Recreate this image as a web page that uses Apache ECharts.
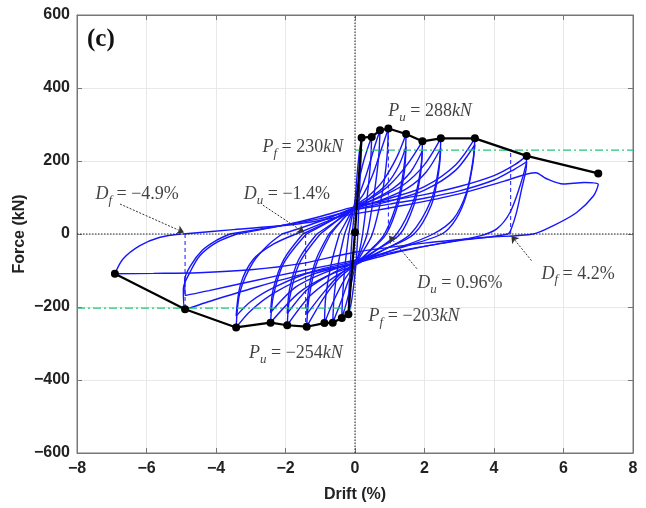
<!DOCTYPE html>
<html>
<head>
<meta charset="utf-8">
<script src="https://cdn.jsdelivr.net/npm/echarts@6/dist/echarts.min.js"></script>
<style>
  html, body { margin: 0; padding: 0; background: #fff; }
  #chart { width: 646px; height: 508px; }
</style>
</head>
<body>
<div id="chart"></div>
<script>
// hysteresis cycles, [drift %, force kN]
const loop01 = [[-0.08,0],[-0.02,60],[0.05,150],[0.12,220],[0.19,264],[0.17,200],[0.12,100],[0.08,0],[0.03,-80],[-0.05,-150],[-0.12,-195],[-0.19,-220],[-0.17,-150],[-0.12,-60],[-0.08,0]];
const loop02 = [[-0.18,0],[-0.08,50],[0,90],[0.1,140],[0.25,200],[0.4,245],[0.48,266],[0.45,200],[0.36,110],[0.22,0],[0.12,-50],[0,-90],[-0.12,-140],[-0.25,-190],[-0.38,-230],[-0.35,-160],[-0.28,-80],[-0.18,0]];
const loop03 = [[-0.3,0],[-0.15,40],[0,80],[0.15,115],[0.35,170],[0.55,235],[0.72,284],[0.68,210],[0.55,110],[0.35,0],[0.18,-45],[0,-85],[-0.2,-130],[-0.4,-185],[-0.64,-243],[-0.6,-170],[-0.48,-80],[-0.3,0]];
const loop04 = [[-0.45,0],[-0.22,40],[0,78],[0.25,110],[0.5,160],[0.75,230],[0.96,289],[0.92,210],[0.78,110],[0.5,0],[0.25,-45],[0,-85],[-0.3,-125],[-0.6,-180],[-0.88,-244],[-0.84,-170],[-0.68,-80],[-0.45,0]];
const loop05 = [[-0.7,0],[-0.35,40],[0,76],[0.4,105],[0.8,145],[1.2,210],[1.47,274],[1.43,200],[1.25,100],[0.85,0],[0.4,-48],[0,-85],[-0.45,-120],[-0.9,-175],[-1.39,-254],[-1.33,-180],[-1.12,-85],[-0.7,0]];
const loop05b = [[-0.75,0],[-0.38,38],[0,72],[0.45,100],[0.9,135],[1.25,185],[1.47,240],[1.42,170],[1.25,85],[0.9,0],[0.45,-45],[0,-80],[-0.45,-112],[-0.9,-160],[-1.39,-220],[-1.33,-150],[-1.12,-70],[-0.75,0]];
const loop06 = [[-1.0,0],[-0.5,38],[0,75],[0.5,100],[1.0,135],[1.5,190],[1.94,254],[1.9,185],[1.7,95],[1.2,0],[0.6,-45],[0,-85],[-0.6,-118],[-1.3,-170],[-1.95,-250],[-1.88,-175],[-1.6,-80],[-1.0,0]];
const loop06b = [[-1.1,0],[-0.55,35],[0,70],[0.55,95],[1.1,125],[1.6,170],[1.94,228],[1.88,160],[1.7,80],[1.3,0],[0.65,-42],[0,-78],[-0.65,-108],[-1.35,-150],[-1.95,-218],[-1.88,-150],[-1.62,-70],[-1.1,0]];
const loop07 = [[-1.4,0],[-0.7,36],[0,74],[0.7,100],[1.4,135],[2.0,190],[2.47,262],[2.42,190],[2.2,95],[1.6,0],[0.8,-45],[0,-85],[-0.8,-115],[-1.6,-160],[-2.43,-243],[-2.35,-170],[-2.05,-80],[-1.4,0]];
const loop07b = [[-1.5,0],[-0.75,34],[0,68],[0.8,95],[1.5,125],[2.05,170],[2.47,235],[2.4,165],[2.2,80],[1.7,0],[0.85,-42],[0,-78],[-0.85,-105],[-1.7,-145],[-2.43,-215],[-2.35,-150],[-2.05,-70],[-1.5,0]];
const loop08 = [[-2.1,0],[-1.0,35],[0,72],[1.0,98],[2.0,130],[2.9,190],[3.45,262],[3.40,205],[3.21,114],[2.83,41],[2.25,0],[1.2,-40],[0,-80],[-1.2,-110],[-2.3,-160],[-3.0,-210],[-3.42,-256],[-3.31,-159],[-2.93,-77],[-2.5,-30],[-2.1,0]];
const loop08b = [[-1.7,0],[-0.85,33],[0,66],[1.0,90],[2.0,120],[2.9,175],[3.45,245],[3.38,185],[3.2,105],[2.9,40],[2.5,0],[1.3,-38],[0,-75],[-1.2,-102],[-2.3,-145],[-3.0,-185],[-3.42,-225],[-3.3,-140],[-2.93,-70],[-2.35,-28],[-1.7,0]];
const loop09 = [[-3.4,0],[-2,25],[-1,48],[0,75],[1,92],[2,108],[3,130],[4,160],[4.6,190],[4.94,214],[4.92,190],[4.75,132],[4.46,59],[4.08,14],[3.6,-5],[2.5,-25],[1.2,-50],[0,-80],[-1.5,-110],[-3.0,-150],[-4.2,-185],[-4.89,-206],[-4.94,-150],[-4.75,-105],[-4.46,-59],[-3.98,-23],[-3.4,0]];
const loop09b = [[-3.6,0],[-2.2,22],[-1,42],[0,66],[1,82],[2,98],[3,118],[4,148],[4.6,178],[4.94,198],[4.92,175],[4.8,125],[4.65,60],[4.5,15],[4.4,0],[3,-18],[1.5,-42],[0,-72],[-1.5,-100],[-3.0,-130],[-4.2,-155],[-4.89,-168],[-4.9,-125],[-4.72,-85],[-4.4,-45],[-4.0,-18],[-3.6,0]];
const loop10 = [[-4.95,0],[-3.5,12],[-1.6,28],[0,55],[1.5,80],[3,110],[4.3,145],[5.2,168],[5.5,152],[6.0,137],[6.6,141],[7.0,136],[6.86,104],[6.38,59],[5.71,23],[5.13,0],[3.8,-9],[2,-25],[0,-50],[-1.6,-82],[-3,-98],[-4.5,-106],[-5.8,-108],[-6.91,-109],[-6.67,-68],[-6.19,-32],[-5.61,-9],[-4.99,0]];
const loops = [loop01, loop02, loop03, loop04, loop05, loop05b, loop06, loop06b, loop07, loop07b, loop08, loop08b, loop09, loop09b, loop10];

// backbone (envelope) points
const envelope = [[-6.91,-109],[-4.89,-206],[-3.42,-256],[-2.43,-243],[-1.95,-250],[-1.39,-254],[-0.88,-244],[-0.64,-243],[-0.38,-230],[-0.19,-220],[0,5],[0.19,264],[0.48,266],[0.72,284],[0.96,289],[1.47,274],[1.94,254],[2.47,262],[3.45,262],[4.94,214],[7.0,166]];

// yield force lines and drift markers
const yieldPos = [[0,230],[8,230]];
const yieldNeg = [[-8,-203],[-0.1,-203]];
const driftMarks = [
  [[-4.89,0],[-4.89,-206]],
  [[-1.42,0],[-1.42,-254]],
  [[0.96,289],[0.96,0]],
  [[4.48,0],[4.48,228]]
];

// annotations: text and position (data coords)
const noteText = [
  '{i|D}{s|f}{n| = −4.9%}',
  '{i|D}{s|u}{n| = −1.4%}',
  '{i|P}{s|f}{n| = 230}{i|kN}',
  '{i|P}{s|u}{n| = 288}{i|kN}',
  '{i|D}{s|u}{n| = 0.96%}',
  '{i|D}{s|f}{n| = 4.2%}',
  '{i|P}{s|f}{n| = −203}{i|kN}',
  '{i|P}{s|u}{n| = −254}{i|kN}'
];
const notePos = [[-6.27,109],[-1.96,109],[-1.5,237],[2.16,335],[3.02,-136],[6.42,-109],[1.70,-226],[-1.70,-327]];
const arrowFrom = [[-6.76,82],[-2.65,79],[1.78,-95],[5.08,-73]];
const arrowTo = [[-4.92,4],[-1.46,4],[0.98,-5],[4.5,-5]];

const minus = v => String(v).replace('-', '\u2212');
const blue = '#1616ff';

const series = [];
loops.forEach(l => {
  series.push({
    type: 'line', data: l, smooth: 0.3, showSymbol: false, silent: true,
    lineStyle: { color: blue, width: 1.4 }
  });
});
series.push({
  type: 'line', data: [[-8,0],[8,0]], showSymbol: false, silent: true,
  lineStyle: { color: '#222', width: 1, type: [1.5, 1.5] }
});
series.push({
  type: 'line', data: [[0,-600],[0,600]], showSymbol: false, silent: true,
  lineStyle: { color: '#222', width: 1, type: [1.5, 1.5] }
});
[yieldPos, yieldNeg].forEach(d => {
  series.push({
    type: 'line', data: d, showSymbol: false, silent: true,
    lineStyle: { color: '#22c27a', width: 1.3, type: [8, 3, 2, 3] }
  });
});
driftMarks.forEach(d => {
  series.push({
    type: 'line', data: d, showSymbol: false, silent: true,
    lineStyle: { color: blue, width: 1, type: [4, 3] }
  });
});
series.push({
  type: 'line', data: envelope, symbol: 'circle', symbolSize: 8, silent: true,
  itemStyle: { color: '#000' },
  lineStyle: { color: '#000', width: 2.2 }, z: 5
});
series.push({
  type: 'lines', coordinateSystem: 'cartesian2d', silent: true, z: 6,
  symbol: ['none', 'arrow'], symbolSize: 7,
  lineStyle: { color: '#333', width: 1, type: [2, 1.5], opacity: 1 },
  data: arrowFrom.map((p, i) => ({ coords: [p, arrowTo[i]] }))
});
series.push({
  type: 'scatter', symbolSize: 0, silent: true, z: 7,
  data: notePos.map((p, i) => ({ value: p, txt: noteText[i] })),
  label: {
    show: true, position: 'inside',
    formatter: p => p.data.txt,
    rich: {
      i: { fontFamily: 'Liberation Serif', fontStyle: 'italic', fontSize: 18, color: '#111' },
      n: { fontFamily: 'Liberation Serif', fontSize: 18, color: '#111' },
      s: { fontFamily: 'Liberation Serif', fontStyle: 'italic', fontSize: 13, color: '#111', padding: [12, 0, 0, 0] }
    }
  }
});

const tickFont = { fontFamily: 'Liberation Sans', fontWeight: 'bold', fontSize: 16, color: '#222' };
const chart = echarts.init(document.getElementById('chart'), null, { renderer: 'canvas' });
chart.setOption({
  animation: false,
  title: {
    text: '(c)', left: 82, top: 22,
    textStyle: { fontFamily: 'Liberation Serif', fontWeight: 'bold', fontSize: 25, color: '#111' }
  },
  grid: { left: 77, right: 13, top: 15, bottom: 53, show: true, borderColor: '#777', borderWidth: 1 },
  xAxis: [{
    type: 'value', min: -8, max: 8, interval: 2,
    name: 'Drift (%)', nameLocation: 'middle', nameGap: 34, nameMoveOverlap: false,
    nameTextStyle: { fontFamily: 'Liberation Sans', fontWeight: 'bold', fontSize: 16, color: '#222' },
    axisLine: { onZero: false, lineStyle: { color: '#777' } },
    axisTick: { inside: true, length: 5, lineStyle: { color: '#777' } },
    axisLabel: Object.assign({ margin: 8, formatter: minus }, tickFont),
    splitLine: { lineStyle: { color: '#e8e8e8' } }
  }, {
    type: 'value', min: -8, max: 8, interval: 2, position: 'top',
    axisLine: { onZero: false, lineStyle: { color: '#777' } },
    axisTick: { inside: true, length: 5, lineStyle: { color: '#777' } },
    axisLabel: { show: false }, splitLine: { show: false }
  }],
  yAxis: [{
    type: 'value', min: -600, max: 600, interval: 200,
    name: 'Force (kN)', nameLocation: 'middle', nameGap: 49, nameMoveOverlap: false,
    nameTextStyle: { fontFamily: 'Liberation Sans', fontWeight: 'bold', fontSize: 16, color: '#222' },
    axisLine: { onZero: false, lineStyle: { color: '#777' } },
    axisTick: { inside: true, length: 5, lineStyle: { color: '#777' } },
    axisLabel: Object.assign({ margin: 7, formatter: minus }, tickFont),
    splitLine: { lineStyle: { color: '#e8e8e8' } }
  }, {
    type: 'value', min: -600, max: 600, interval: 200, position: 'right',
    axisLine: { onZero: false, lineStyle: { color: '#777' } },
    axisTick: { inside: true, length: 5, lineStyle: { color: '#777' } },
    axisLabel: { show: false }, splitLine: { show: false }
  }],
  series: series
});
</script>
</body>
</html>
